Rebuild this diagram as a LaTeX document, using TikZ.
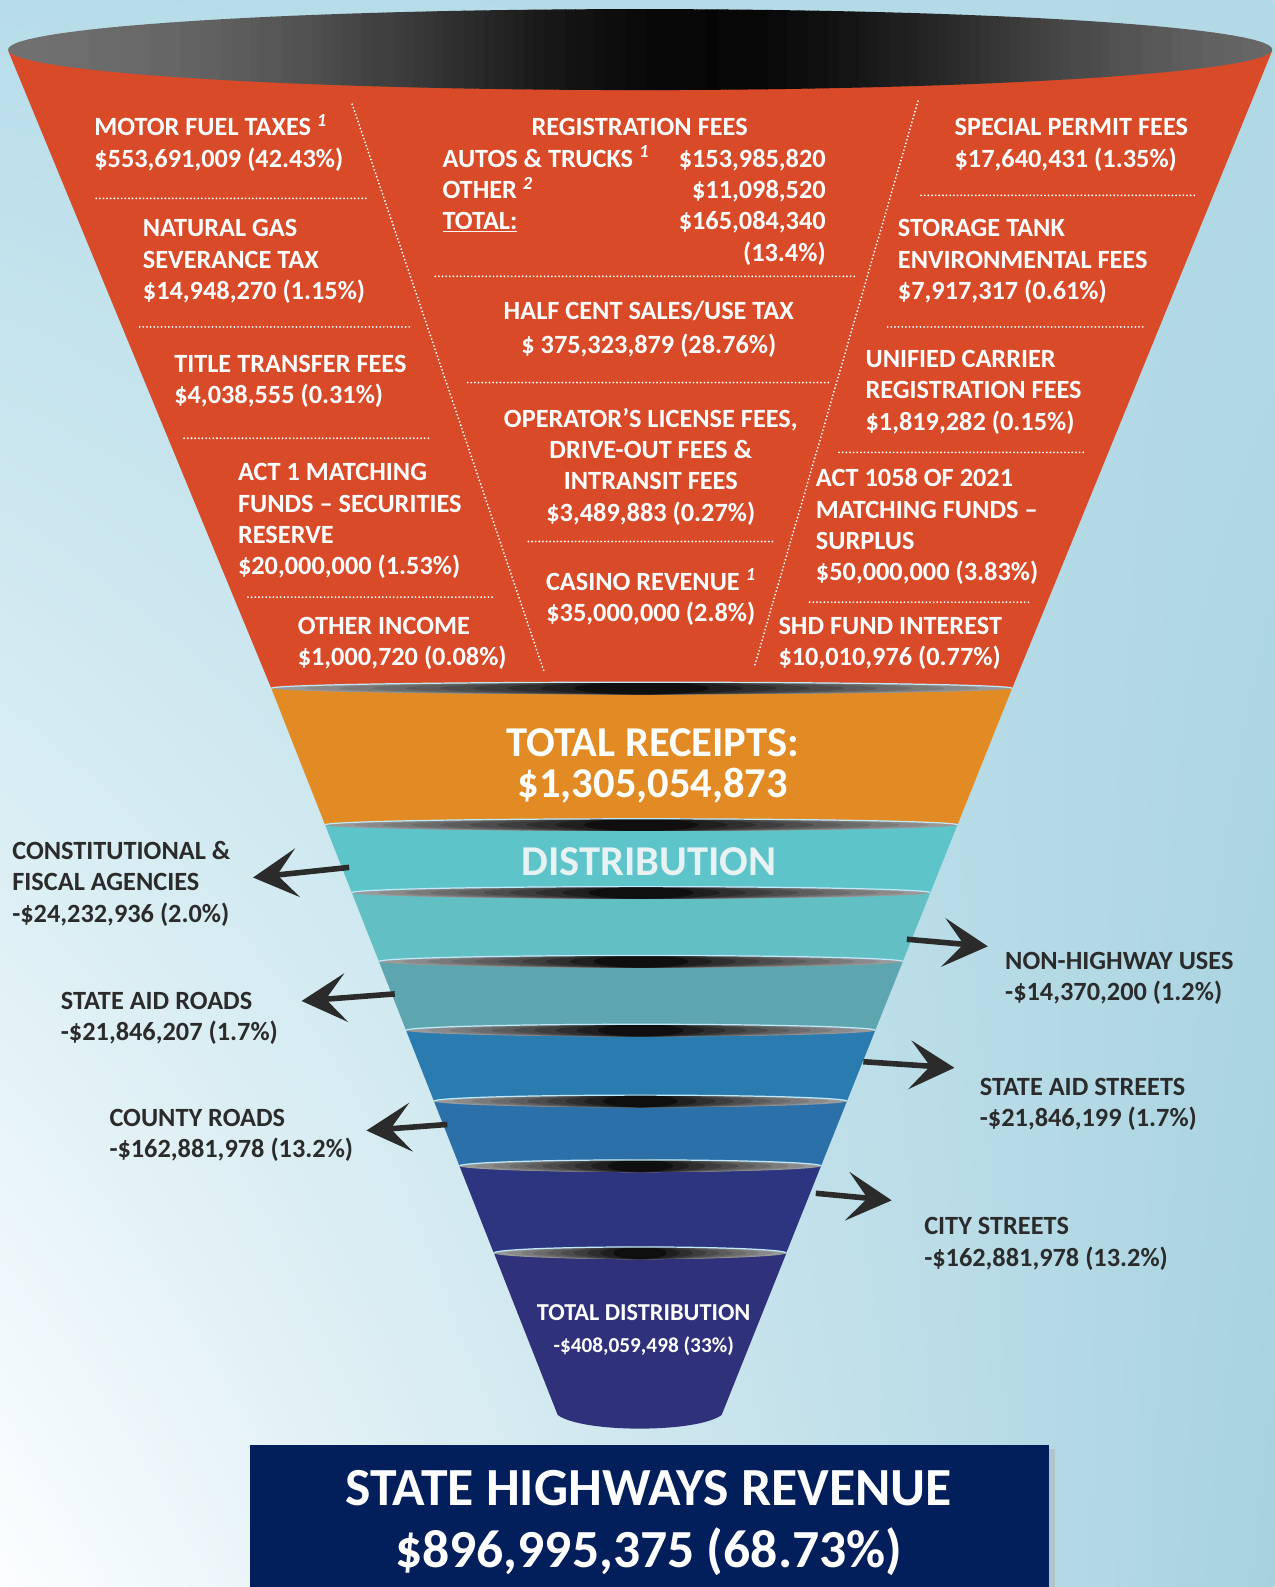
\documentclass[tikz,border=0pt]{standalone}
\usepackage{fontspec}
\setmainfont{Carlito}
\usepackage{tikz}
\usetikzlibrary{positioning,arrows.meta,shadings}

\definecolor{fundred}{RGB}{217,74,41}
\definecolor{fundorange}{RGB}{226,139,37}
\definecolor{fundteal}{RGB}{93,196,202}
\definecolor{fundtealb}{RGB}{98,192,197}
\definecolor{fundgrayteal}{RGB}{93,166,175}
\definecolor{fundblue}{RGB}{42,123,176}
\definecolor{fundblueb}{RGB}{44,112,170}
\definecolor{fundnavy}{RGB}{45,52,128}
\definecolor{fundnavyb}{RGB}{47,49,122}
\definecolor{boxnavy}{RGB}{2,31,91}
\definecolor{labelgray}{RGB}{43,43,43}
\definecolor{distwhite}{RGB}{232,242,243}
\definecolor{bgul}{RGB}{183,221,233}
\definecolor{bgur}{RGB}{178,217,229}
\definecolor{bgll}{RGB}{252,254,255}
\definecolor{bglr}{RGB}{166,210,223}

\begin{document}
\begin{tikzpicture}[x=1pt,y=-1pt,
  fundtxt/.style={text=white, font=\fontsize{26}{31}\selectfont\bfseries, inner sep=0pt},
  sidetxt/.style={text=labelgray, font=\fontsize{26}{31}\selectfont\bfseries, inner sep=0pt, align=left, anchor=base west},
  dotline/.style={white, line width=2pt, line cap=round, dash pattern=on 0pt off 3.6pt},
  outarrow/.style={draw=labelgray, line width=5.5pt, -{Stealth[length=44pt,width=48pt,inset=20pt]}},]
\useasboundingbox (0,0) rectangle (1259,1568);
\shade[upper left=bgul, upper right=bgur, lower left=bgll, lower right=bglr] (0,0) rectangle (1259,1568);

%Funnel
\fill[fundred] (8,50) -- (268,680) -- (1000,680) -- (1257,50) -- cycle;
\foreach \ya/\yb/\bandcol in {680/815/fundorange, 815/882/fundteal, 882/950/fundtealb, 950/1018/fundgrayteal, 1018/1088/fundblue, 1088/1152/fundblueb, 1152/1238/fundnavy}{
  \pgfmathsetmacro\bandxla{268+0.394*(\ya-680)}
  \pgfmathsetmacro\bandxra{1000-0.40*(\ya-680)}
  \pgfmathsetmacro\bandxlb{268+0.394*(\yb-680)}
  \pgfmathsetmacro\bandxrb{1000-0.40*(\yb-680)}
  \fill[\bandcol] (\bandxla,\ya) -- (\bandxlb,\yb) -- (\bandxrb,\yb) -- (\bandxra,\ya) -- cycle;
}
\fill[fundnavyb] (488,1238) -- (551,1398) .. controls (575,1416) and (689,1416) .. (713,1398) -- (777,1238) -- cycle;
\foreach \yd in {680,815,882,950,1018,1088,1152,1238}{
  \pgfmathsetmacro\lensxl{268+0.394*(\yd-680)}
  \pgfmathsetmacro\lensxr{1000-0.40*(\yd-680)}
  \pgfmathsetmacro\lensmid{(\lensxl+\lensxr)/2}
  \pgfmathsetmacro\lensrad{(\lensxr-\lensxl)/2}
  \foreach \k in {0,...,9}{
    \pgfmathtruncatemacro\lensdark{40+6*\k}
    \pgfmathsetmacro\lensk{\lensrad*(1-\k/11)}
    \fill[black!\lensdark] (\lensmid,\yd) ellipse [x radius=\lensk, y radius=6];
  }
  \draw[white!75!cyan, line width=1.2pt] (\lensxl,\yd) arc[start angle=180, end angle=360, x radius=\lensrad, y radius=6];
}
% funnel mouth
\begin{scope}
  \clip (632.5,49) ellipse [x radius=624.5, y radius=40];
  \foreach \s in {0,...,125}{
    \pgfmathsetmacro\rimt{(\s/125-0.55)/0.3}
    \pgfmathtruncatemacro\rimdark{55+43*exp(-1*(\rimt)*(\rimt))}
    \fill[black!\rimdark] (8+\s*10,5) rectangle (19+\s*10,95);
  }
\end{scope}

%Dotted lines
\draw[dotline] (348,103) -- (538,665);
\draw[dotline] (907,100) -- (745,660);
\draw[dotline] (95,196) -- (362,196);
\draw[dotline] (138,323) -- (405,323);
\draw[dotline] (182,433) -- (425,433);
\draw[dotline] (245,590) -- (488,590);
\draw[dotline] (430,273) -- (846,273);
\draw[dotline] (462,378) -- (822,378);
\draw[dotline] (522,535) -- (765,535);
\draw[dotline] (910,193) -- (1182,193);
\draw[dotline] (877,323) -- (1132,323);
\draw[dotline] (829,447) -- (1072,447);
\draw[dotline] (800,595) -- (1018,595);

%Receipts (anchored at the baseline of the last line)
\node[fundtxt, align=left, anchor=base west] (motorfuel) at (93,165) {MOTOR FUEL TAXES \textsuperscript{\itshape 1}\\\$553,691,009 (42.43\%)};
\node[fundtxt, align=left, anchor=base west] (natgas) at (141,296) {NATURAL GAS\\SEVERANCE TAX\\\$14,948,270 (1.15\%)};
\node[fundtxt, align=left, anchor=base west] (titlefees) at (172,399) {TITLE TRANSFER FEES\\\$4,038,555 (0.31\%)};
\node[fundtxt, align=left, anchor=base west] (actone) at (235,568) {ACT 1 MATCHING\\FUNDS – SECURITIES\\RESERVE\\\$20,000,000 (1.53\%)};
\node[fundtxt, align=left, anchor=base west] (otherinc) at (294,658) {OTHER INCOME\\\$1,000,720 (0.08\%)};

\node[fundtxt, anchor=base] (regfees) at (632,134) {REGISTRATION FEES};
\node[fundtxt, align=left, anchor=base west] (regitems) at (437,227) {AUTOS \& TRUCKS \textsuperscript{\itshape 1}\\OTHER \textsuperscript{\itshape 2}\\\underline{TOTAL:}};
\node[fundtxt, align=right, anchor=base east] (regvalues) at (816,258) {\$153,985,820\\\$11,098,520\\\$165,084,340\\(13.4\%)};
\node[fundtxt, align=center, anchor=base] (halfcent) at (641,349) {HALF CENT SALES/USE TAX\\[2pt]\$ 375,323,879 (28.76\%)};
\node[fundtxt, align=center, anchor=base] (operator) at (643,515) {OPERATOR’S LICENSE FEES,\\DRIVE-OUT FEES \&\\INTRANSIT FEES\\\$3,489,883 (0.27\%)};
\node[fundtxt, align=center, anchor=base] (casino) at (643,614) {CASINO REVENUE \textsuperscript{\itshape 1}\\\$35,000,000 (2.8\%)};

\node[fundtxt, align=left, anchor=base west] (specpermit) at (943,165) {SPECIAL PERMIT FEES\\\$17,640,431 (1.35\%)};
\node[fundtxt, align=left, anchor=base west] (storage) at (887,296) {STORAGE TANK\\ENVIRONMENTAL FEES\\\$7,917,317 (0.61\%)};
\node[fundtxt, align=left, anchor=base west] (unified) at (855,425) {UNIFIED CARRIER\\REGISTRATION FEES\\\$1,819,282 (0.15\%)};
\node[fundtxt, align=left, anchor=base west] (actten) at (806,574) {ACT 1058 OF 2021\\MATCHING FUNDS –\\SURPLUS\\\$50,000,000 (3.83\%)};
\node[fundtxt, align=left, anchor=base west] (shdfund) at (769,658) {SHD FUND INTEREST\\\$10,010,976 (0.77\%)};

\node[text=white, font=\fontsize{42}{41}\selectfont\bfseries, align=center, anchor=base, inner sep=0pt] (receipts) at (645,788) {TOTAL RECEIPTS:\\\$1,305,054,873};
\node[text=distwhite, font=\fontsize{42}{42}\selectfont\bfseries, anchor=base, inner sep=0pt] (distrib) at (641,865) {DISTRIBUTION};
\node[text=white, font=\fontsize{24}{31}\selectfont\bfseries, align=center, anchor=base, inner sep=0pt] (totdist) at (636,1336) {TOTAL DISTRIBUTION\\{\fontsize{21}{31}\selectfont -\$408,059,498 (33\%)}};

%Distribution
\node[sidetxt] (constfisc) at (12,911) {CONSTITUTIONAL \&\\FISCAL AGENCIES\\-\$24,232,936 (2.0\%)};
\node[sidetxt] (aidroads) at (60,1028) {STATE AID ROADS\\-\$21,846,207 (1.7\%)};
\node[sidetxt] (county) at (108,1144) {COUNTY ROADS\\-\$162,881,978 (13.2\%)};
\node[sidetxt] (nonhwy) at (993,989) {NON-HIGHWAY USES\\-\$14,370,200 (1.2\%)};
\node[sidetxt] (aidstreets) at (968,1113) {STATE AID STREETS\\-\$21,846,199 (1.7\%)};
\node[sidetxt] (city) at (913,1251) {CITY STREETS\\-\$162,881,978 (13.2\%)};

\coordinate (cfaS) at (345,857);  \coordinate (cfaT) at (250,867);
\coordinate (sarS) at (390,982);  \coordinate (sarT) at (298,989);
\coordinate (cntS) at (442,1111); \coordinate (cntT) at (362,1117);
\coordinate (nhwS) at (896,928);  \coordinate (nhwT) at (976,935);
\coordinate (sasS) at (853,1049); \coordinate (sasT) at (943,1055);
\coordinate (ctyS) at (806,1179); \coordinate (ctyT) at (881,1186);
\draw[outarrow] (cfaS) -- (cfaT);
\draw[outarrow] (sarS) -- (sarT);
\draw[outarrow] (cntS) -- (cntT);
\draw[outarrow] (nhwS) -- (nhwT);
\draw[outarrow] (sasS) -- (sasT);
\draw[outarrow] (ctyS) -- (ctyT);

%Revenue box
\fill[black!35, opacity=0.4] (251,1432) rectangle (1042,1580);
\fill[boxnavy] (247,1428) rectangle (1036,1575);
\node[text=white, font=\fontsize{53}{62}\selectfont\bfseries, align=center, anchor=base, inner sep=0pt] (shrevenue) at (641,1549) {STATE HIGHWAYS REVENUE\\\$896,995,375 (68.73\%)};

\end{tikzpicture}
\end{document}
